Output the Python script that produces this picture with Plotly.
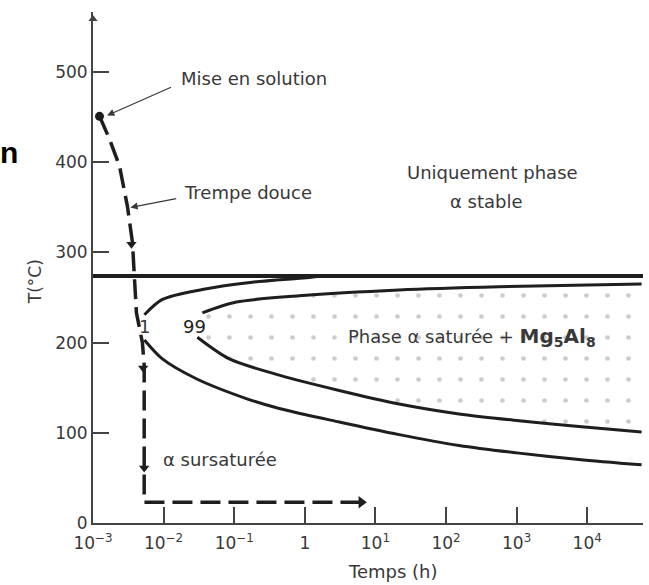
import numpy as np
import plotly.graph_objects as go

# ---- data (time as log10 hours, temperature in °C) ----
solvus_T = 274
solvus_logt = [-3.0, 4.79]

c1_upper_logt = [-2.272, -2.017, -1.451, -0.744, 0.020, 0.246]
c1_upper_T = [231, 248, 259, 267, 272, 274]
c1_lower_logt = [-2.272, -2.017, -1.536, -0.829, -0.362, 0.487, 1.335, 2.184, 3.033, 3.882, 4.77]
c1_lower_T = [203, 182, 160, 138, 127, 112, 98, 86, 77.5, 70.5, 64.5]

c99_upper_logt = [-1.451, -0.970, -0.079, 1.335, 2.749, 4.77]
c99_upper_T = [233, 245, 252, 258.5, 262, 265]
c99_lower_logt = [-1.522, -1.069, -0.362, 0.487, 1.335, 2.184, 3.033, 3.882, 4.77]
c99_lower_T = [206, 182, 164, 147, 132, 121, 113.5, 107, 101]

quench_logt = [-2.908, -2.767, -2.625, -2.512, -2.441, -2.413, -2.385, -2.30, -2.275, -2.275, 0.80]
quench_T = [451, 426, 396, 351, 311, 273, 233, 200, 175, 23, 23]

down_arrow_logt = [-2.455, -2.29, -2.275]
down_arrow_T = [309, 172, 61]
end_arrow_logt = [0.80]
end_arrow_T = [23]

xtick_vals = [-3, -2, -1, 0, 1, 2, 3, 4]
xtick_text = ["10<sup>−3</sup>", "10<sup>−2</sup>", "10<sup>−1</sup>", "1",
              "10<sup>1</sup>", "10<sup>2</sup>", "10<sup>3</sup>", "10<sup>4</sup>"]
ytick_vals = [0, 100, 200, 300, 400, 500]

FONT = "DejaVu Sans"
TXT = "#383838"
LINE = "#1e1e1e"


def t(v):
    return list(10 ** np.asarray(v, dtype=float))


fig = go.Figure()

# stippled region inside the 99 % curve
fill_x = c99_upper_logt + c99_lower_logt[::-1]
fill_T = c99_upper_T + c99_lower_T[::-1]
fig.add_trace(go.Scatter(x=t(fill_x), y=fill_T, mode="lines", fill="toself",
                         line=dict(width=0, color="rgba(0,0,0,0)"),
                         fillcolor="rgba(0,0,0,0)",
                         fillpattern=dict(shape=".", size=21, solidity=0.04,
                                          fgcolor="#9a9a9a", bgcolor="rgba(0,0,0,0)"),
                         hoverinfo="skip", showlegend=False))

# solvus line
fig.add_trace(go.Scatter(x=t(solvus_logt), y=[solvus_T, solvus_T], mode="lines",
                         line=dict(color=LINE, width=4), showlegend=False))

for xs, ys in [(c1_upper_logt, c1_upper_T), (c1_lower_logt, c1_lower_T),
               (c99_upper_logt, c99_upper_T), (c99_lower_logt, c99_lower_T)]:
    fig.add_trace(go.Scatter(x=t(xs), y=ys, mode="lines",
                             line=dict(color=LINE, width=3, shape="spline", smoothing=0.8),
                             showlegend=False))

# quench path
fig.add_trace(go.Scatter(x=t(quench_logt), y=quench_T, mode="lines",
                         line=dict(color=LINE, width=3.5, dash="20px,8px"),
                         showlegend=False))
fig.add_trace(go.Scatter(x=t(quench_logt[:1]), y=quench_T[:1], mode="markers",
                         marker=dict(symbol="circle", size=9, color=LINE), showlegend=False))
fig.add_trace(go.Scatter(x=t(down_arrow_logt), y=down_arrow_T, mode="markers",
                         marker=dict(symbol="triangle-down", size=9, color=LINE), showlegend=False))
fig.add_trace(go.Scatter(x=t(end_arrow_logt), y=end_arrow_T, mode="markers",
                         marker=dict(symbol="triangle-right", size=11, color=LINE), showlegend=False))

# arrow tip of the T axis
fig.add_trace(go.Scatter(x=[1e-3], y=[559], mode="markers", cliponaxis=False,
                         marker=dict(symbol="triangle-up", size=8, color="#444"),
                         showlegend=False))

font = dict(family=FONT, size=18, color=TXT)
ann = []
ann.append(dict(x=-1.777, y=493, text="Mise en solution", showarrow=False,
                xanchor="left", yanchor="middle", font=font))
ann.append(dict(x=-2.80, y=452, ax=-1.874, ay=484, axref="x", ayref="y",
                text="", showarrow=True, arrowhead=2, arrowsize=1.2, arrowwidth=1.2,
                arrowcolor=TXT))
ann.append(dict(x=-1.734, y=366, text="Trempe douce", showarrow=False,
                xanchor="left", yanchor="middle", font=font))
ann.append(dict(x=-2.47, y=350, ax=-1.80, ay=360, axref="x", ayref="y",
                text="", showarrow=True, arrowhead=2, arrowsize=1.2, arrowwidth=1.2,
                arrowcolor=TXT))
ann.append(dict(x=2.665, y=389, text="Uniquement phase", showarrow=False, font=font))
ann.append(dict(x=2.58, y=357, text="α stable", showarrow=False, font=font))
ann.append(dict(x=0.586, y=206, xanchor="left", showarrow=False, font=font,
                text="Phase α saturée + <b><span style='font-size:20px'>Mg<sub>5</sub>Al<sub>8</sub></span></b>"))
ann.append(dict(x=-2.031, y=70, xanchor="left", text="α sursaturée", showarrow=False, font=font))
ann.append(dict(x=-2.272, y=218, text="1", showarrow=False, font=font))
ann.append(dict(x=-1.56, y=218, text="99", showarrow=False,
                font=dict(family=FONT, size=18, color="#222")))
# axis titles
ann.append(dict(xref="paper", x=0, xshift=-70, y=267, text="T(°C)", textangle=-90,
                showarrow=False, font=dict(family=FONT, size=17, color=TXT)))
ann.append(dict(x=1.25, yref="paper", y=0, yshift=-61, text="Temps (h)",
                showarrow=False, font=font))
# cropped letter from surrounding document
ann.append(dict(xref="paper", x=0, xshift=-95, xanchor="left", y=411, text="<b>n</b>",
                showarrow=False, font=dict(family="Liberation Sans", size=30, color="#000")))

fig.update_layout(
    width=649, height=585,
    margin=dict(l=93, r=6, t=12, b=62),
    paper_bgcolor="white", plot_bgcolor="white",
    showlegend=False,
    annotations=ann,
    xaxis=dict(type="log", range=[-3, 4.79], showgrid=False, zeroline=False,
               automargin=False,
               showline=True, linecolor="#444", linewidth=2,
               ticks="inside", ticklen=16, tickwidth=1.5, tickcolor="#444",
               ticklabelstandoff=4,
               tickvals=t(xtick_vals), ticktext=xtick_text,
               tickfont=dict(family=FONT, size=17, color=TXT)),
    yaxis=dict(range=[0, 566.7], showgrid=False, zeroline=False,
               automargin=False,
               showline=True, linecolor="#444", linewidth=2,
               ticks="inside", ticklen=16, tickwidth=1.5, tickcolor="#444",
               tickvals=ytick_vals,
               tickfont=dict(family=FONT, size=17, color=TXT)),
)

fig.write_html("out.html", config={"displayModeBar": False},
               post_script="document.body.style.margin='0';")
